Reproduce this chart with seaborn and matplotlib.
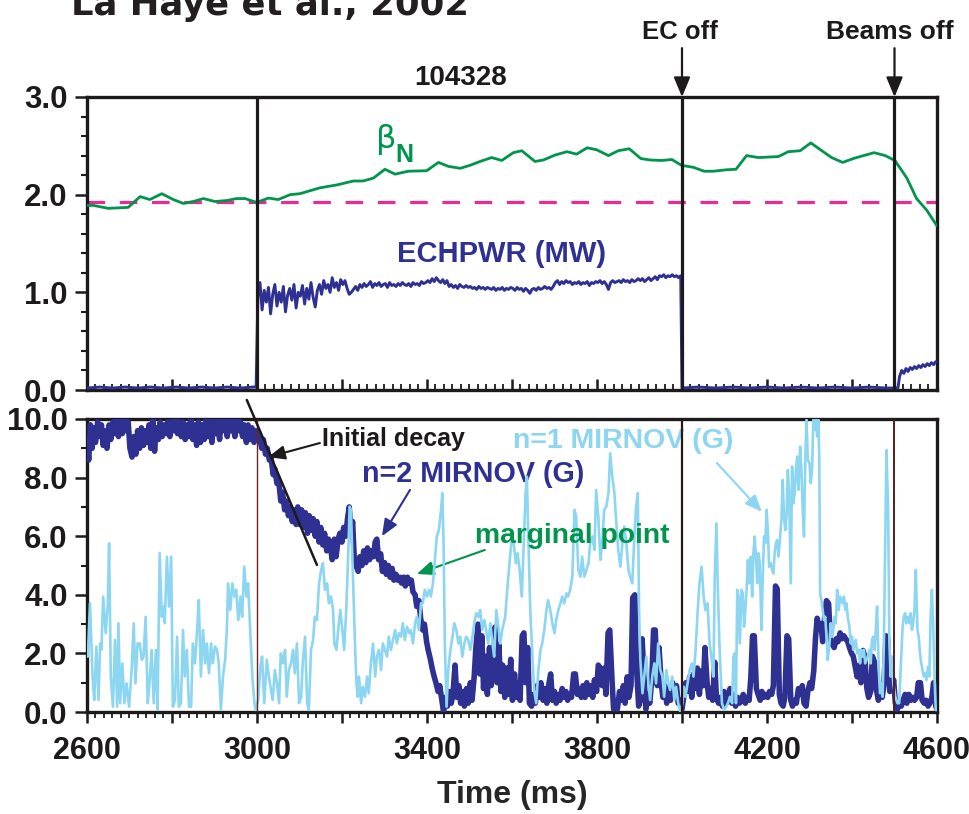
import numpy as np
import matplotlib
matplotlib.use("Agg")
import matplotlib.pyplot as plt
import seaborn as sns
from matplotlib import font_manager
from matplotlib.ticker import MultipleLocator, FuncFormatter

# ---------------------------------------------------------------- data
# beta_N (normalised beta) vs time (ms)
beta_t = [2600, 2615, 2650, 2697, 2725, 2748, 2776, 2803, 2827, 2850,
          2874, 2901, 2929, 2952, 2972, 2999, 3027, 3050, 3078, 3101,
          3148, 3188, 3227, 3250, 3274, 3301, 3325, 3356, 3399, 3427,
          3450, 3478, 3501, 3525, 3552, 3576, 3603, 3623, 3654, 3674,
          3701, 3729, 3752, 3777, 3799, 3827, 3850, 3876, 3903, 3925,
          3952, 3976, 3999, 4027, 4052, 4074, 4105, 4127, 4152, 4180,
          4227, 4250, 4278, 4303, 4329, 4352, 4378, 4403, 4427, 4452,
          4478, 4501, 4529, 4552, 4576, 4600]
beta_v = [1.89, 1.89, 1.86, 1.87, 1.98, 1.95, 2.01, 1.95, 1.91, 1.93,
          1.96, 1.93, 1.94, 1.96, 1.96, 1.92, 1.965, 1.95, 2.00, 2.01,
          2.07, 2.10, 2.14, 2.14, 2.17, 2.26, 2.21, 2.24, 2.245, 2.33,
          2.29, 2.27, 2.30, 2.34, 2.38, 2.35, 2.43, 2.45, 2.34, 2.355,
          2.405, 2.44, 2.415, 2.48, 2.46, 2.40, 2.45, 2.47, 2.37, 2.355,
          2.35, 2.36, 2.30, 2.28, 2.24, 2.24, 2.255, 2.26, 2.40, 2.38,
          2.39, 2.44, 2.45, 2.53, 2.45, 2.38, 2.33, 2.37, 2.40, 2.43,
          2.40, 2.35, 2.17, 1.96, 1.84, 1.68]
beta_marginal = 1.92

# EC heating power (MW)
ech_pre_t = [2600, 2630, 2660, 2690, 2720, 2750, 2780, 2810, 2840, 2870,
             2900, 2930, 2960, 2990, 2998]
ech_pre_v = [0.02, 0.03, 0.02, 0.03, 0.02, 0.03, 0.02, 0.03, 0.02, 0.03,
             0.02, 0.03, 0.02, 0.03, 0.03]
ech_on_start, ech_on_step = 3002, 5
ech_on_v = [
    0.95, 1.10, 0.82, 1.02, 0.90, 1.05, 0.78, 0.98, 1.08, 0.86,
    1.00, 0.90, 1.06, 0.80, 0.97, 1.04, 0.92, 1.08, 0.84, 1.00,
    0.96, 1.07, 0.88, 1.04, 0.93, 1.10, 0.95, 0.85, 1.02, 1.08,
    0.98, 1.12, 1.04, 1.08, 1.00, 1.15, 1.05, 1.10, 1.02, 1.13,
    1.08, 1.12, 1.04, 0.98, 1.00, 1.03, 1.06, 1.02, 1.08, 1.05,
    1.09, 1.06, 1.08, 1.11, 1.05, 1.09, 1.07, 1.10, 1.06, 1.08,
    1.09, 1.05, 1.10, 1.07, 1.08, 1.06, 1.09, 1.07, 1.10, 1.08,
    1.07, 1.09, 1.06, 1.10, 1.08, 1.09, 1.07, 1.11, 1.09, 1.10,
    1.12, 1.10, 1.14, 1.11, 1.15, 1.12, 1.10, 1.13, 1.09, 1.12,
    1.06, 1.08, 1.05, 1.07, 1.04, 1.08, 1.06, 1.05, 1.07, 1.05,
    1.06, 1.04, 1.05, 1.03, 1.06, 1.04, 1.05, 1.03, 1.05, 1.04,
    1.03, 1.05, 1.02, 1.04, 1.03, 1.05, 1.02, 1.04, 1.03, 1.05,
    1.04, 1.02, 1.05, 1.03, 1.04, 1.01, 1.04, 1.02, 0.99, 1.03,
    1.04, 1.02, 1.05, 1.03, 1.04, 1.06, 1.04, 1.05, 1.03, 1.06,
    1.10, 1.12, 1.08, 1.11, 1.09, 1.12, 1.10, 1.11, 1.08, 1.10,
    1.09, 1.11, 1.08, 1.10, 1.09, 1.11, 1.07, 1.10, 1.09, 1.11,
    1.10, 1.12, 1.09, 1.11, 1.08, 1.03, 1.10, 1.12, 1.10, 1.11,
    1.12, 1.10, 1.13, 1.11, 1.12, 1.10, 1.13, 1.11, 1.12, 1.14,
    1.12, 1.14, 1.11, 1.13, 1.15, 1.12, 1.14, 1.16, 1.13, 1.17,
    1.16, 1.18, 1.15, 1.17, 1.16, 1.18, 1.16, 1.17, 1.15, 1.17]
ech_off_t = [4000, 4040, 4080, 4120, 4160, 4200, 4240, 4280, 4320, 4360,
             4400, 4440, 4480, 4508]
ech_off_v = [0.02, 0.03, 0.02, 0.03, 0.02, 0.03, 0.02, 0.03, 0.02, 0.03,
             0.02, 0.03, 0.02, 0.02]
ech_nbi_start, ech_nbi_step = 4512, 5
ech_nbi_v = [0.14, 0.20, 0.17, 0.22, 0.19, 0.23, 0.21, 0.24, 0.22, 0.25,
             0.23, 0.26, 0.24, 0.27, 0.25, 0.28, 0.26, 0.29]

# n=2 Mirnov amplitude (G)
n2_t = [2600, 2604, 2608, 2612, 2616, 2620, 2625, 2630, 2634, 2638,
        2643, 2647, 2652, 2656, 2661, 2665, 2670, 2674, 2679, 2683,
        2688, 2692, 2697, 2701, 2706, 2710, 2715, 2719, 2724, 2728,
        2733, 2737, 2742, 2746, 2750, 2755, 2759, 2763, 2768, 2772,
        2777, 2781, 2786, 2790, 2795, 2799, 2804, 2808, 2813, 2817,
        2822, 2826, 2831, 2835, 2840, 2844, 2849, 2853, 2858, 2862,
        2867, 2871, 2876, 2880, 2885, 2889, 2894, 2898, 2903, 2907,
        2912, 2916, 2921, 2925, 2930, 2934, 2939, 2943, 2948, 2952,
        2957, 2961, 2966, 2970, 2975, 2979, 2984, 2988, 2993, 2997,
        3002, 3006, 3011, 3015, 3020, 3024, 3029, 3033, 3038, 3042,
        3047, 3051, 3056, 3060, 3065, 3069, 3074, 3078, 3083, 3087,
        3092, 3096, 3101, 3105, 3110, 3114, 3119, 3123, 3128, 3132,
        3137, 3141, 3146, 3150, 3155, 3159, 3164, 3168, 3173, 3177,
        3182, 3186, 3191, 3195, 3200, 3204, 3209, 3213, 3217, 3221,
        3225, 3229, 3233, 3238, 3242, 3247, 3251, 3256, 3260, 3265,
        3269, 3274, 3278, 3282, 3286, 3291, 3295, 3300, 3304, 3309,
        3313, 3318, 3322, 3327, 3331, 3336, 3340, 3345, 3349, 3354,
        3358, 3363, 3367, 3372, 3376, 3381, 3385, 3390, 3394, 3399,
        3403, 3408, 3412, 3417, 3421, 3426, 3430, 3435, 3439, 3443,
        3448, 3452, 3457, 3461, 3466, 3470, 3475, 3479, 3484, 3488,
        3493, 3497, 3502, 3506, 3511, 3515, 3520, 3524, 3529, 3533,
        3538, 3542, 3547, 3551, 3556, 3560, 3565, 3569, 3574, 3578,
        3583, 3588, 3592, 3597, 3601, 3606, 3610, 3615, 3619, 3624,
        3628, 3632, 3637, 3641, 3646, 3650, 3655, 3659, 3664, 3668,
        3673, 3677, 3682, 3686, 3691, 3695, 3700, 3704, 3709, 3713,
        3718, 3722, 3727, 3731, 3736, 3740, 3745, 3749, 3754, 3758,
        3763, 3767, 3772, 3776, 3781, 3785, 3790, 3794, 3799, 3803,
        3808, 3812, 3817, 3821, 3826, 3830, 3835, 3839, 3844, 3848,
        3853, 3857, 3862, 3866, 3871, 3875, 3880, 3884, 3889, 3893,
        3898, 3902, 3906, 3911, 3915, 3920, 3924, 3929, 3933, 3937,
        3942, 3946, 3951, 3955, 3960, 3964, 3969, 3973, 3978, 3982,
        3987, 3991, 3996, 4000, 4005, 4009, 4014, 4018, 4023, 4027,
        4032, 4036, 4041, 4045, 4050, 4054, 4059, 4063, 4068, 4072,
        4077, 4081, 4086, 4090, 4095, 4099, 4104, 4108, 4113, 4117,
        4122, 4126, 4131, 4135, 4140, 4144, 4149, 4153, 4158, 4162,
        4166, 4170, 4175, 4179, 4184, 4188, 4193, 4197, 4202, 4206,
        4211, 4215, 4220, 4224, 4229, 4233, 4238, 4242, 4247, 4251,
        4256, 4260, 4265, 4269, 4274, 4278, 4283, 4287, 4292, 4296,
        4301, 4305, 4310, 4314, 4318, 4323, 4327, 4331, 4336, 4340,
        4345, 4349, 4354, 4358, 4363, 4367, 4372, 4376, 4381, 4385,
        4390, 4394, 4399, 4403, 4408, 4412, 4417, 4421, 4426, 4430,
        4435, 4439, 4444, 4448, 4453, 4457, 4462, 4466, 4471, 4475,
        4480, 4484, 4489, 4493, 4498, 4502, 4507, 4511, 4516, 4520,
        4525, 4529, 4534, 4538, 4543, 4547, 4552, 4556, 4561, 4565,
        4570, 4574, 4579, 4583, 4588, 4592, 4597, 4600]
n2_v = [9.3, 8.6, 9.8, 9.0, 9.7, 9.2, 9.9, 9.4, 9.8, 9.1,
        9.6, 9.0, 9.8, 9.3, 9.9, 9.5, 10.0, 9.4, 9.9, 9.5,
        10.0, 9.6, 9.9, 9.0, 8.7, 9.4, 8.8, 9.6, 9.0, 9.7,
        9.1, 9.6, 9.2, 9.8, 9.0, 10.0, 8.9, 9.7, 9.3, 9.9,
        9.4, 9.8, 9.5, 9.9, 9.4, 9.9, 9.6, 10.0, 9.5, 9.9,
        9.4, 9.9, 9.3, 9.8, 9.4, 10.0, 9.3, 9.8, 9.1, 9.9,
        9.2, 9.8, 9.3, 10.0, 9.4, 9.9, 9.2, 10.0, 9.5, 9.9,
        9.3, 10.0, 9.6, 9.9, 9.4, 10.0, 9.6, 9.9, 9.4, 10.0,
        9.6, 9.9, 9.4, 9.8, 9.2, 9.8, 9.3, 9.7, 9.2, 9.6,
        9.5, 9.4, 9.0, 9.3, 8.8, 9.0, 8.6, 8.7, 8.1, 8.3,
        7.8, 7.9, 7.2, 7.5, 6.9, 7.2, 6.7, 7.0, 6.5, 6.9,
        6.4, 7.0, 6.4, 6.9, 6.3, 6.8, 6.1, 6.7, 6.2, 6.6,
        6.0, 6.5, 5.8, 6.3, 5.7, 6.1, 5.5, 5.9, 5.6, 5.2,
        5.9, 5.3, 5.9, 6.1, 5.8, 6.3, 6.0, 6.6, 7.0, 6.2,
        6.5, 5.2, 5.0, 4.8, 5.3, 5.0, 5.5, 5.1, 5.6, 5.2,
        5.5, 5.3, 5.8, 5.9, 5.2, 5.4, 4.8, 5.1, 4.7, 5.0,
        4.6, 4.9, 4.5, 4.7, 4.5, 4.6, 4.4, 4.6, 4.3, 4.6,
        4.4, 4.5, 4.1, 4.0, 3.6, 3.8, 3.2, 2.8, 3.0, 2.4,
        2.1, 1.8, 1.5, 1.2, 1.0, 0.7, 0.9, 0.4, 0.0, 0.5,
        0.2, 0.7, 0.3, 0.6, 1.6, 0.5, 0.9, 0.3, 0.7, 0.2,
        0.8, 0.3, 1.0, 0.4, 1.2, 2.2, 3.0, 1.3, 2.6, 0.8,
        1.9, 0.6, 2.2, 0.9, 1.7, 2.9, 1.0, 2.3, 0.7, 1.6,
        0.5, 1.5, 0.6, 1.8, 0.4, 1.3, 0.5, 1.0, 0.4, 2.6,
        2.7, 1.0, 2.2, 0.3, 0.2, 0.6, 0.3, 0.9, 0.5, 1.0,
        0.4, 0.8, 0.3, 0.9, 1.3, 0.4, 0.7, 0.3, 0.6, 0.4,
        0.8, 0.5, 0.7, 0.4, 0.6, 0.5, 1.3, 1.3, 0.6, 0.8,
        0.5, 0.9, 0.5, 1.0, 0.6, 0.9, 0.5, 1.1, 0.7, 1.6,
        1.5, 0.9, 1.5, 0.6, 2.7, 2.8, 1.2, 0.1, 0.3, 0.1,
        0.7, 0.4, 0.9, 0.3, 1.2, 0.5, 0.9, 3.9, 4.0, 1.5,
        0.2, 0.4, 2.5, 1.2, 0.1, 0.6, 0.3, 1.1, 2.8, 2.8,
        0.9, 2.2, 1.0, 0.5, 0.9, 0.3, 0.8, 0.4, 1.0, 0.5,
        0.9, 0.3, 0.4, 0.1, 0.6, 1.0, 0.7, 1.2, 0.5, 1.3,
        0.8, 1.5, 0.6, 1.4, 0.9, 2.2, 1.0, 0.5, 0.8, 0.4,
        1.7, 0.5, 0.3, 0.5, 0.2, 0.7, 0.3, 0.5, 0.8, 0.3,
        0.6, 0.2, 0.5, 0.3, 0.4, 0.6, 0.3, 0.5, 0.4, 1.2,
        2.6, 2.6, 0.8, 0.6, 0.4, 0.7, 0.5, 0.6, 0.5, 0.7,
        0.6, 0.9, 4.3, 4.2, 0.6, 0.3, 0.2, 0.5, 2.6, 2.5,
        0.4, 0.2, 0.4, 0.3, 0.8, 0.6, 0.9, 0.3, 0.2, 0.7,
        1.0, 0.8, 1.4, 2.5, 3.2, 2.9, 3.0, 2.4, 3.3, 3.8,
        3.7, 2.5, 2.3, 2.2, 2.5, 2.4, 2.7, 2.5, 2.6, 2.5,
        2.4, 2.2, 2.0, 1.9, 1.5, 1.2, 1.6, 1.0, 2.1, 1.9,
        0.8, 0.5, 0.7, 1.9, 1.7, 0.8, 0.4, 0.6, 0.5, 0.9,
        2.6, 2.5, 0.7, 0.8, 1.1, 0.3, 0.1, 0.3, 0.2, 0.4,
        0.6, 0.3, 0.6, 0.4, 0.5, 0.4, 0.5, 1.0, 1.0, 0.4,
        0.3, 0.4, 0.2, 0.3, 0.5, 1.0, 0.2, 0.1]

# n=1 Mirnov amplitude (G)
n1_t = [2602, 2607, 2613, 2617, 2622, 2627, 2631, 2634, 2638, 2644,
        2649, 2652, 2656, 2661, 2666, 2671, 2674, 2678, 2683, 2688,
        2693, 2699, 2705, 2710, 2714, 2719, 2724, 2729, 2733, 2738,
        2743, 2747, 2752, 2757, 2762, 2766, 2771, 2776, 2780, 2783,
        2788, 2793, 2798, 2802, 2807, 2812, 2816, 2821, 2826, 2830,
        2835, 2840, 2845, 2849, 2854, 2859, 2863, 2868, 2873, 2878,
        2882, 2887, 2892, 2896, 2901, 2906, 2910, 2915, 2920, 2925,
        2929, 2932, 2937, 2942, 2947, 2951, 2956, 2961, 2965, 2970,
        2975, 2979, 2984, 2989, 2994, 2997, 3003, 3008, 3012, 3017,
        3023, 3028, 3033, 3037, 3042, 3047, 3052, 3056, 3061, 3066,
        3070, 3075, 3080, 3085, 3089,
        3094, 3099, 3104, 3108, 3113, 3118, 3122, 3127, 3132, 3136,
        3141, 3146, 3151, 3155, 3160, 3165, 3169, 3174, 3179, 3182,
        3187, 3191, 3196, 3201, 3205, 3210, 3215, 3218, 3221, 3224,
        3227, 3231, 3234, 3237, 3240, 3245, 3249, 3254, 3259, 3263,
        3268, 3273, 3278, 3282, 3287, 3292, 3296, 3301, 3306, 3310,
        3315, 3320, 3325, 3329, 3334, 3339, 3343, 3348, 3353, 3358,
        3362, 3367, 3372, 3376, 3381, 3386, 3390, 3395, 3400, 3405,
        3409, 3414, 3419, 3423, 3428, 3433, 3436, 3439, 3442, 3446,
        3450, 3455, 3460, 3464, 3469, 3474, 3478, 3483, 3488, 3492,
        3497, 3502, 3507, 3511, 3516, 3521, 3525, 3530, 3535, 3539,
        3544, 3549, 3554, 3558, 3563, 3568, 3572, 3577,
        3584, 3590, 3594, 3599, 3604, 3609, 3613, 3618, 3623, 3627,
        3632, 3635, 3638, 3643, 3648, 3652, 3657, 3662, 3667, 3671,
        3676, 3681, 3685, 3690, 3695, 3700, 3704, 3709, 3714, 3718,
        3723, 3728, 3732, 3737, 3742, 3747, 3751, 3756, 3761, 3765,
        3770, 3775, 3780, 3784, 3789, 3794, 3798, 3803, 3808, 3812,
        3817, 3822, 3827, 3831, 3836, 3841, 3845, 3850, 3855, 3859,
        3864, 3869, 3874, 3878, 3883, 3888, 3892, 3896, 3899, 3902,
        3907, 3911, 3916, 3921, 3925, 3930, 3935, 3939, 3944, 3949,
        3954, 3958, 3963, 3968, 3972, 3977, 3982, 3986, 3991, 3996,
        4001, 4004, 4008, 4013, 4018, 4023, 4027, 4032, 4037, 4041,
        4046, 4051, 4055, 4060, 4065, 4070, 4074, 4077, 4081, 4084,
        4088,
        4094, 4099, 4104, 4108, 4113, 4118, 4121, 4124, 4127, 4130,
        4133, 4136, 4140, 4143, 4146, 4149, 4152, 4155, 4158, 4162,
        4165, 4168, 4171, 4174, 4177, 4180, 4183, 4187, 4190, 4193,
        4196, 4199, 4202, 4205, 4209, 4212, 4215, 4218, 4221, 4224,
        4227, 4231, 4234, 4237, 4240, 4243, 4246, 4249, 4252, 4256,
        4259, 4262, 4265, 4268, 4271, 4274, 4278, 4281, 4284, 4287,
        4290, 4293, 4296, 4300, 4303, 4306, 4309, 4312, 4315, 4318,
        4321, 4323, 4325, 4328, 4331, 4334, 4337, 4340, 4343, 4347,
        4350, 4353, 4356, 4359, 4362, 4365, 4369, 4372, 4375, 4378,
        4381, 4384, 4387, 4390, 4394, 4397, 4400, 4403, 4406, 4409,
        4412, 4416, 4419, 4422, 4425, 4428, 4431, 4434, 4437, 4441,
        4444, 4447, 4450, 4453, 4456, 4459, 4463, 4466, 4469, 4472,
        4475, 4478, 4481, 4485, 4488, 4491, 4494, 4497, 4502, 4507,
        4511, 4516, 4519, 4522, 4525, 4528, 4532, 4535, 4538, 4541,
        4544, 4547, 4550, 4554, 4557, 4560, 4563, 4566, 4569, 4572,
        4575, 4579, 4582, 4585, 4588, 4591, 4594, 4597, 4600]
n1_v = [1.89, 3.71, 1.21, 0.41, 2.23, 0.41, 2.34, 2.12, 3.94, 2.69,
        3.71, 5.76, 1.21, 0.18, 2.46, 0.18, 3.03, 0.30, 1.66, 0.30,
        0.98, 0.18, 1.43, 3.03, 0.98, 2.34, 2.34, 1.78, 1.89, 3.25,
        0.30, 0.98, 2.12, 0.30, 2.12, 0.07, 5.42, 3.25, 3.60, 3.03,
        5.30, 3.60, 5.30, 0.18, 0.41, 2.57, 0.18, 0.30, 2.80, 1.21,
        2.12, 0.18, 0.18, 2.34, 1.66, 2.80, 3.82, 1.21, 2.80, 1.66,
        2.34, 1.32, 2.34, 1.66, 2.23, 2.12, 1.66, 0.07, 1.21, 1.78,
        2.80, 4.39, 3.48, 4.39, 3.94, 4.17, 3.14, 3.94, 3.25, 4.96,
        3.94, 4.39, 2.80, 1.21, 0.30, 0.07, 0.41, 1.55, 1.89, 0.30,
        1.78, 1.21, 0.75, 0.41, 1.43, 0.98, 0.30, 2.00, 1.66, 2.12,
        0.52, 1.43, 1.66, 2.12, 1.32,
        2.34, 0.30, 0.52, 1.78, 2.57, 0.30, 0.07, 2.12, 2.46, 3.25,
        3.14, 4.39, 4.85, 5.08, 4.17, 4.39, 3.71, 3.94, 3.48, 2.34,
        2.12, 2.80, 3.48, 2.80, 2.12, 3.48, 5.53, 7.01, 6.90, 5.53,
        4.05, 2.12, 0.98, 0.52, 1.21, 0.30, 0.86, 0.52, 1.21, 0.64,
        1.66, 2.34, 1.21, 1.89, 2.12, 1.43, 2.34, 2.12, 1.89, 2.57,
        2.12, 2.46, 2.80, 2.34, 2.69, 2.57, 3.03, 2.46, 2.91, 2.69,
        2.80, 2.34, 3.03, 3.25, 2.80, 3.71, 3.71, 4.17, 3.94, 4.17,
        3.94, 4.39, 5.30, 5.99, 6.21, 6.90, 7.47, 5.76, 2.34, 0.18,
        1.43, 2.12, 2.57, 3.03, 2.80, 2.34, 2.57, 1.89, 2.34, 2.57,
        2.46, 2.12, 2.57, 3.03, 3.37, 3.25, 3.48, 2.80, 3.14, 2.80,
        2.34, 3.03, 2.34, 1.89, 3.48, 2.91, 2.34, 2.80,
        3.25, 4.39, 5.08, 5.87, 5.76, 5.08, 5.42, 4.85, 3.94, 5.53,
        7.47, 8.03, 6.21, 3.48, 1.89, 0.75, 0.30, 1.43, 2.12, 2.34,
        2.80, 3.48, 3.82, 3.48, 3.03, 2.69, 3.14, 3.48, 3.71, 3.94,
        3.71, 4.05, 3.94, 4.17, 4.62, 6.90, 6.67, 4.85, 4.62, 5.30,
        4.62, 4.85, 5.08, 5.76, 5.99, 5.53, 7.58, 6.67, 5.19, 5.76,
        6.90, 7.01, 7.47, 8.83, 8.03, 7.47, 6.56, 5.53, 4.96, 5.64,
        6.33, 5.76, 4.85, 4.62, 4.39, 5.99, 7.01, 7.47, 3.48, 1.78,
        0.64, 1.21, 1.89, 0.98, 0.41, 1.21, 1.66, 0.98, 2.34, 1.43,
        1.21, 0.52, 1.43, 0.98, 0.75, 1.21, 0.41, 0.86, 0.30, 0.00,
        0.30, 0.86, 0.52, 0.98, 1.43, 1.66, 1.21, 2.12, 3.48, 4.39,
        4.96, 3.94, 3.48, 3.71, 2.34, 1.78, 1.21, 4.62, 6.44, 4.39,
        2.34,
        0.30, 0.07, 0.18, 0.30, 0.52, 0.30, 1.89, 2.00, 0.30, 4.17,
        3.94, 2.34, 4.17, 4.05, 2.91, 3.48, 4.17, 5.19, 4.39, 5.30,
        3.94, 5.42, 5.99, 5.30, 4.39, 5.42, 5.08, 2.80, 4.62, 5.99,
        5.76, 6.90, 6.21, 4.96, 5.08, 4.85, 4.73, 5.42, 5.76, 5.87,
        5.30, 5.99, 6.56, 7.92, 6.67, 6.21, 6.67, 8.26, 7.47, 4.39,
        8.38, 7.12, 7.47, 8.26, 8.72, 7.58, 9.06, 8.26, 6.90, 5.99,
        8.60, 9.97, 8.60, 8.49, 7.81, 8.26, 9.97, 9.63, 9.97, 9.40,
        9.97, 8.60, 4.05, 3.82, 3.48, 3.14, 3.25, 2.57, 1.78, 2.34,
        3.03, 2.57, 2.80, 3.25, 3.03, 4.17, 3.48, 3.94, 3.82, 3.71,
        3.94, 3.48, 3.71, 3.25, 2.91, 2.34, 2.57, 2.12, 2.34, 2.46,
        2.00, 2.12, 1.66, 2.12, 1.89, 2.12, 1.66, 1.78, 1.89, 2.12,
        1.66, 2.46, 2.57, 2.12, 2.80, 3.60, 1.43, 0.64, 0.98, 0.52,
        2.34, 5.76, 8.94, 6.90, 2.34, 1.21, 1.89, 0.98, 0.52, 0.30,
        0.30, 1.89, 2.91, 3.25, 3.37, 3.03, 3.25, 3.03, 3.37, 2.80,
        3.03, 3.48, 4.85, 2.80, 2.57, 2.00, 1.66, 1.43, 1.21, 1.32,
        1.09, 1.55, 1.21, 3.25, 4.17, 3.03, 1.32, 0.07, 0.07]

# event times (ms)
ec_off_time = 4000
beams_off_time = 4500
ech_on_time = 3000

# guide line through the initial decay of the n=2 mode
decay_t = [2976, 3141]
decay_v = [10.65, 5.02]

# ---------------------------------------------------------------- style
sns.set_style("ticks")
available = {f.name for f in font_manager.fontManager.ttflist}


def pick(*names):
    for n in names:
        if n in available:
            return n
    return "DejaVu Sans"


SANS = pick("Liberation Sans", "Arimo", "DejaVu Sans")
plt.rcParams["font.family"] = [SANS, "DejaVu Sans"]
plt.rcParams["font.weight"] = "bold"

NAVY = "#2E3192"
SKY = "#8DD6F1"
GREEN = "#00954C"
PINK = "#EC2A94"
INK = "#1c1a1a"

fig = plt.figure(figsize=(9.70, 8.14), dpi=100)
W, H = 970.0, 814.0
ax1 = fig.add_axes([87 / W, 1 - 390 / H, 850 / W, 293 / H])
ax2 = fig.add_axes([87 / W, 1 - 712 / H, 850 / W, 293 / H])

# ---------------------------------------------------------------- top panel
ech_t = (ech_pre_t
         + [ech_on_start + ech_on_step * i for i in range(len(ech_on_v))]
         + ech_off_t
         + [ech_nbi_start + ech_nbi_step * i for i in range(len(ech_nbi_v))])
ech_v = ech_pre_v + ech_on_v + ech_off_v + ech_nbi_v

ax1.axhline(beta_marginal, color=PINK, lw=2.3, ls=(0, (5.5, 4.6)), zorder=2)
sns.lineplot(x=np.array(ech_t), y=np.array(ech_v), ax=ax1, color=NAVY,
             lw=2.1, estimator=None, sort=False, legend=False, zorder=3)
sns.lineplot(x=np.array(beta_t), y=np.array(beta_v), ax=ax1, color=GREEN,
             lw=2.0, estimator=None, sort=False, legend=False, zorder=3)
for t in (ech_on_time, ec_off_time, beams_off_time):
    ax1.axvline(t, color=INK, lw=2.3, zorder=4)

ax1.set_xlim(2600, 4600)
ax1.set_ylim(0, 3)
ax1.set_xlabel("")
ax1.set_ylabel("")

# ---------------------------------------------------------------- bottom panel
sns.lineplot(x=np.array(n2_t), y=np.array(n2_v), ax=ax2, color=NAVY,
             lw=4.0, estimator=None, sort=False, legend=False, zorder=3)
sns.lineplot(x=np.array(n1_t), y=np.array(n1_v), ax=ax2, color=SKY,
             lw=1.9, estimator=None, sort=False, legend=False, zorder=4)
ax2.axvline(ech_on_time, color="#6b2424", lw=1.0, zorder=5)
ax2.axvline(ec_off_time, color="#2a1616", lw=1.6, zorder=5)
ax2.axvline(beams_off_time, color="#5a1c1c", lw=1.4, zorder=5)
ax2.plot(decay_t, decay_v, color=INK, lw=1.8, clip_on=False, zorder=6)

ax2.set_xlim(2600, 4600)
ax2.set_ylim(0, 10)
ax2.set_ylabel("")
ax2.set_xlabel("Time (ms)", fontsize=23, fontweight="bold", labelpad=10)

# ---------------------------------------------------------------- axes styling
for ax in (ax1, ax2):
    for s in ax.spines.values():
        s.set_linewidth(2.4)
        s.set_color(INK)
        s.set_visible(True)
    ax.xaxis.set_major_locator(MultipleLocator(200))
    ax.xaxis.set_minor_locator(MultipleLocator(20))
    ax.tick_params(axis="y", which="both", direction="out", left=True,
                   right=False, colors=INK)
    ax.tick_params(axis="y", which="major", length=9, width=1.8, pad=5,
                   labelsize=22.5)
    ax.tick_params(axis="y", which="minor", length=4.5, width=1.5)
    ax.yaxis.set_major_formatter(FuncFormatter(lambda v, p: f"{v:.1f}"))
    ax.set_facecolor("white")

ax1.yaxis.set_major_locator(MultipleLocator(1.0))
ax1.yaxis.set_minor_locator(MultipleLocator(0.2))
ax2.yaxis.set_major_locator(MultipleLocator(2.0))
ax2.yaxis.set_minor_locator(MultipleLocator(1.0))

ax1.tick_params(axis="x", which="both", direction="in", bottom=True,
                top=False, labelbottom=False, colors=INK)
ax1.tick_params(axis="x", which="major", length=8, width=1.8)
ax1.tick_params(axis="x", which="minor", length=4, width=1.3)

ax2.tick_params(axis="x", which="both", direction="out", bottom=True,
                top=False, colors=INK)
ax2.tick_params(axis="x", which="major", length=8, width=1.8, pad=9,
                labelsize=22)
ax2.tick_params(axis="x", which="minor", length=4, width=1.3)
ax2.xaxis.set_major_formatter(FuncFormatter(
    lambda x, p: f"{x:.0f}" if round(x - 2600) % 400 == 0 else ""))

for lab in ax1.get_yticklabels() + ax2.get_yticklabels() + ax2.get_xticklabels():
    lab.set_fontweight("bold")

# ---------------------------------------------------------------- annotations
fig.text(71 / W, 1 - 15 / H, "La Haye et al., 2002", fontsize=25.5,
         fontweight="bold", family=["DejaVu Sans"], ha="left",
         va="baseline", color="#231f20")

ax1.text(3478, 3.12, "104328", fontsize=20, fontweight="bold", ha="center",
         va="baseline", color=INK, clip_on=False)
ax1.text(3995, 3.59, "EC off", fontsize=18.5, fontweight="bold",
         ha="center", va="baseline", color=INK, clip_on=False)
ax1.text(4488, 3.59, "Beams off", fontsize=19, fontweight="bold",
         ha="center", va="baseline", color=INK, clip_on=False)

arrow_big = dict(arrowstyle="-|>,head_length=0.6,head_width=0.25",
                 lw=1.6, mutation_scale=20, shrinkA=0, shrinkB=0)
ax1.annotate("", xy=(ec_off_time, 3.0), xytext=(ec_off_time, 3.5),
             arrowprops=dict(color=INK, **arrow_big), annotation_clip=False)
ax1.annotate("", xy=(beams_off_time, 3.0), xytext=(beams_off_time, 3.5),
             arrowprops=dict(color=INK, **arrow_big), annotation_clip=False)

ax1.text(3280, 2.56, "β", fontsize=23, fontweight="normal",
         family=["DejaVu Sans"], ha="left", va="center", color=GREEN)
ax1.text(3325, 2.337, "N", fontsize=18, fontweight="bold", ha="left",
         va="baseline", color=GREEN)
ax1.text(3329, 1.313, "ECHPWR (MW)", fontsize=21, fontweight="bold",
         ha="left", va="baseline", color=NAVY)

arrow_small = dict(arrowstyle="-|>,head_length=0.6,head_width=0.25",
                   lw=1.5, mutation_scale=17, shrinkA=0, shrinkB=0)
ax2.text(3153, 9.08, "Initial decay", fontsize=18, fontweight="bold",
         ha="left", va="baseline", color=INK)
ax2.annotate("", xy=(3026, 8.70), xytext=(3148, 9.18),
             arrowprops=dict(color=INK, **arrow_small))
ax2.text(3247, 7.86, "n=2 MIRNOV (G)", fontsize=20.7, fontweight="bold",
         ha="left", va="baseline", color=NAVY)
ax2.annotate("", xy=(3294, 6.0), xytext=(3360, 7.58),
             arrowprops=dict(color=NAVY, **arrow_small))
ax2.text(3602, 9.0, "n=1 MIRNOV (G)", fontsize=20.5, fontweight="bold",
         ha="left", va="baseline", color=SKY, zorder=2)
ax2.annotate("", xy=(4188, 6.83), xytext=(4082, 8.50),
             arrowprops=dict(color=SKY, **arrow_small))
ax2.text(3513, 5.77, "marginal point", fontsize=20.3, fontweight="bold",
         ha="left", va="baseline", color=GREEN, zorder=7)
ax2.annotate("", xy=(3376, 4.71), xytext=(3536, 5.53),
             arrowprops=dict(color=GREEN, **arrow_small))

fig.savefig("out.png", dpi=100, facecolor="white")
